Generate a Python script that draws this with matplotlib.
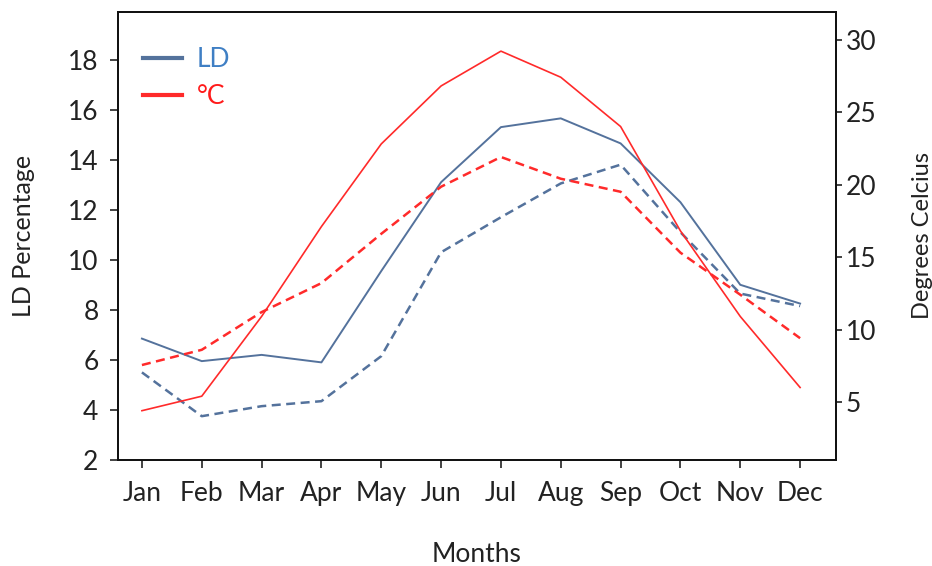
import matplotlib
import matplotlib.pyplot as plt

matplotlib.use("Agg")

# monthly values
months = ["Jan", "Feb", "Mar", "Apr", "May", "Jun",
          "Jul", "Aug", "Sep", "Oct", "Nov", "Dec"]
ld_solid = [6.85, 5.95, 6.2, 5.9, 9.55, 13.1, 15.3, 15.65, 14.65, 12.3, 9.0, 8.25]
ld_dashed = [5.5, 3.75, 4.15, 4.35, 6.15, 10.3, 11.7, 13.05, 13.8, 11.1, 8.65, 8.15]
temp_solid = [4.4, 5.4, 10.9, 17.1, 22.8, 26.8, 29.2, 27.4, 24.0, 16.8, 10.9, 6.0]
temp_dashed = [7.55, 8.6, 11.2, 13.2, 16.6, 19.85, 21.9, 20.4, 19.5, 15.3, 12.4, 9.4]
ld_ticks = [2, 4, 6, 8, 10, 12, 14, 16, 18]
temp_ticks = [5, 10, 15, 20, 25, 30]

BLUE = "#54729c"
RED = "#ff2a2a"
TEXT = "#222222"

plt.rcParams["font.family"] = ["Lato", "DejaVu Sans"]

fig = plt.figure(figsize=(9.32, 5.66), dpi=100)
ax = fig.add_axes([0.1266, 0.1873, 0.7704, 0.7915])
ax2 = ax.twinx()

x = list(range(len(months)))
ax.plot(x, ld_solid, color=BLUE, lw=1.4, label="LD")
ax.plot(x, ld_dashed, color=BLUE, lw=1.8, dashes=(3.6, 2.2))
ax2.plot(x, temp_solid, color=RED, lw=1.2, label="°C")
ax2.plot(x, temp_dashed, color=RED, lw=1.8, dashes=(3.6, 2.2))

ax.set_xlim(-0.4, 11.6)
ax.set_ylim(2, 19.9)
ax2.set_ylim(1, 31.9)
ax.set_xticks(x)
ax.set_xticklabels(months)
ax.set_yticks(ld_ticks)
ax2.set_yticks(temp_ticks)

for a in (ax, ax2):
    for s in a.spines.values():
        s.set_linewidth(1.3)
        s.set_color("#111111")
ax.tick_params(axis="both", direction="out", length=6, width=1.1,
               colors="#111111", labelcolor=TEXT, labelsize=19)
ax.tick_params(axis="x", pad=9)
ax.tick_params(axis="y", pad=8)
ax2.tick_params(axis="y", direction="out", length=4, width=1.1,
                colors="#111111", labelcolor=TEXT, labelsize=19, pad=3)

ax.set_xlabel("Months", color=TEXT, fontsize=19, labelpad=26)
ax.set_ylabel("LD Percentage", color=TEXT, fontsize=18, labelpad=24)
ax2.set_ylabel("Degrees Celcius", color=TEXT, fontsize=17, labelpad=26)

handles = [ax.get_lines()[0], ax2.get_lines()[0]]
leg = ax.legend(handles, ["LD", "°C"], loc="upper left", frameon=False,
                fontsize=19, handlelength=1.5, handletextpad=0.55,
                labelspacing=0.45, borderaxespad=0,
                bbox_to_anchor=(0.02, 0.945))
for line in leg.get_lines():
    line.set_linewidth(3)
leg.get_texts()[0].set_color("#3f7fc4")
leg.get_texts()[1].set_color("#ff1a1a")

fig.savefig("out.png", dpi=100)
